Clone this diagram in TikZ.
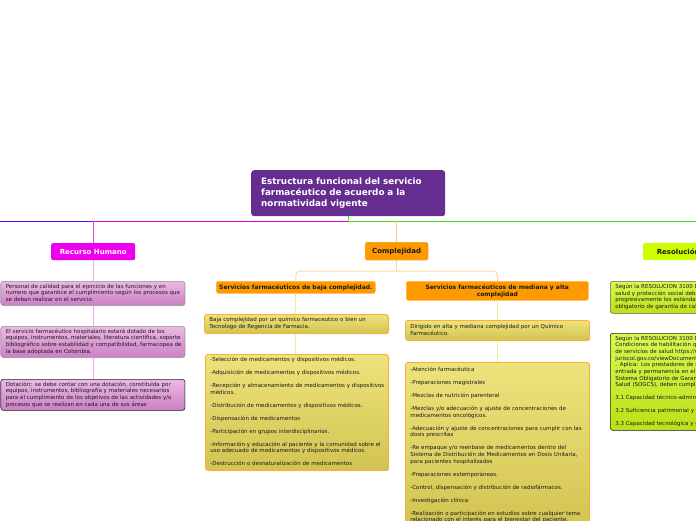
\documentclass[tikz,border=0pt]{standalone}
\usepackage{fontspec}
\setmainfont{DejaVu Sans}
\usetikzlibrary{shadows,backgrounds}
\definecolor{titlepurple}{HTML}{662D91}
\definecolor{magentac}{HTML}{EE00EE}
\definecolor{magline}{HTML}{DD00DD}
\definecolor{pinkline}{HTML}{F4A8F0}
\definecolor{blueline}{HTML}{5A10F0}
\definecolor{greenline}{HTML}{44DD11}
\definecolor{orangec}{HTML}{FF9900}
\definecolor{orline}{HTML}{FFD8A0}
\definecolor{yline}{HTML}{EEEE99}
\definecolor{limec}{HTML}{CCFF00}
\definecolor{pinktop}{HTML}{EBB8E4}
\definecolor{pinkbot}{HTML}{CC80C4}
\definecolor{yeltop}{HTML}{EEE27C}
\definecolor{yelbot}{HTML}{D2C452}
\definecolor{limetop}{HTML}{D8F850}
\definecolor{limebot}{HTML}{BCE018}
\definecolor{txt}{HTML}{1A1A1A}
\newcommand\mylines[1]{\begin{tabular}{@{}l@{}}#1\end{tabular}}
\tikzset{
  box/.style={anchor=north west, align=left, inner xsep=5pt, inner ysep=2pt,
    font=\fontsize{5.5}{6.6}\selectfont, text=txt, rounded corners=2.5pt,
    drop shadow={shadow xshift=0.8pt, shadow yshift=-0.8pt, opacity=0.3}},
  pinkbox/.style={box, draw=gray!85, line width=0.6pt, top color=pinktop, bottom color=pinkbot},
  yelbox/.style={box, draw=orangec!80, line width=0.8pt, top color=yeltop, bottom color=yelbot},
  limebox/.style={box, draw=gray!80!black, line width=0.6pt, top color=limetop, bottom color=limebot},
  label/.style={anchor=north west, align=center, inner sep=1pt, rounded corners=2pt,
    font=\bfseries\fontsize{7}{8}\selectfont},
  sublabel/.style={anchor=north west, align=center, inner sep=1pt, rounded corners=2pt,
    fill=orangec, draw=orangec!70, line width=0.6pt, text=txt,
    font=\bfseries\fontsize{6}{7}\selectfont},
  conn/.style={line width=1pt},
}
\begin{document}
\begin{tikzpicture}[x=1pt,y=-1pt]
\clip (0,0) rectangle (696,520);
% title
\node[anchor=north west, fill=titlepurple, rounded corners=3pt, text=white,
  font=\bfseries\fontsize{8.8}{11.2}\selectfont, align=left, inner xsep=10pt,
  text width=174pt, minimum height=46pt, minimum width=194pt] (title) at (251,170)
  {Estructura funcional del servicio\\farmacéutico de acuerdo a la\\normatividad vigente};
% top-level labels
\node[label, fill=magentac, text=white, minimum width=84pt, minimum height=17pt] (rh) at (51,243) {Recurso Humano};
\node[label, fill=orangec, draw=orangec!70, text=txt, minimum width=63pt, minimum height=18pt] (cx) at (365,242) {Complejidad};
\node[label, fill=limec, text=txt, minimum width=70pt, minimum height=17pt] (res) at (643,243) {Resolución};
% Recurso humano boxes
\node[pinkbox, text width=174pt, minimum height=24pt] (p1) at (0.5,281)
 {\mylines{Personal de calidad para el ejercicio de las funciones y en\\numero que garantice el cumplimiento según los procesos que\\se deban realizar en el servicio.}};
\node[pinkbox, text width=174pt, minimum height=31pt] (p2) at (0.5,326)
 {\mylines{El servicio farmacéutico hospitalario estará dotado de los\\equipos, instrumentos, materiales, literatura científica, soporte\\bibliográfico sobre estabilidad y compatibilidad, farmacopea de\\la base adoptada en Colombia.}};
\node[pinkbox, draw=black!85, text width=174pt, minimum height=31pt] (p3) at (0.5,379)
 {\mylines{Dotación: se debe contar con una dotación, constituida por\\equipos, instrumentos, bibliografía y materiales necesarios\\para el cumplimiento de los objetivos de las actividades y/o\\procesos que se realizan en cada una de sus áreas}};
% Complejidad
\node[sublabel, minimum width=159pt, minimum height=12pt] (baja) at (216,281) {Servicios farmacéuticos de baja complejidad.};
\node[sublabel, minimum width=182pt, minimum height=19pt] (med) at (406,281) {Servicios farmacéuticos de mediana y alta\\complejidad};
\node[yelbox, text width=174pt, minimum height=19pt] (b1) at (204,314)
 {\mylines{Baja complejidad por un químico farmaceutico o bien un\\Tecnologo de Regencia de Farmacia.}};
\node[yelbox, text width=173pt, minimum height=116pt] (b2) at (205,354)
 {\mylines{-Selección de medicamentos y dispositivos médicos.\\[6.4pt]
  -Adquisición de medicamentos y dispositivos médicos.\\[6.4pt]
  -Recepción y almacenamiento de medicamentos y dispositivos\\médicos.\\[6.4pt]
  -Distribución de medicamentos y dispositivos médicos.\\[6.4pt]
  -Dispensación de medicamentos\\[6.4pt]
  -Participación en grupos interdisciplinarios.\\[6.4pt]
  -Información y educación al paciente y la comunidad sobre el\\uso adecuado de medicamentos y dispositivos médicos.\\[6.4pt]
  -Destrucción o desnaturalización de medicamentos}};
\node[yelbox, text width=174pt, minimum height=20pt] (m1) at (405,320)
 {\mylines{Dirigido en alta y mediana complejidad por un Químico\\Farmacéutico.}};
\node[yelbox, text width=174pt, minimum height=166pt] (m2) at (405,362)
 {\mylines{-Atención farmacéutica\\[6.4pt]
  -Preparaciones magistrales\\[6.4pt]
  -Mezclas de nutrición parenteral\\[6.4pt]
  -Mezclas y/o adecuación y ajuste de concentraciones de\\medicamentos oncológicos.\\[6.4pt]
  -Adecuación y ajuste de concentraciones para cumplir con las\\dosis prescritas\\[6.4pt]
  -Re empaque y/o reenbase de medicamentos dentro del\\Sistema de Distribución de Medicamentos en Dosis Unitaria,\\para pacientes hospitalizados\\[6.4pt]
  -Preparaciones extemporáneas.\\[6.4pt]
  -Control, dispensación y distribución de radiofármacos.\\[6.4pt]
  -Investigación clínica\\[6.4pt]
  -Realización o participación en estudios sobre cualquier tema\\relacionado con el interés para el bienestar del paciente.}};
% Resolucion boxes
\node[limebox, text width=180pt, minimum height=32pt] (l1) at (610,281)
 {\mylines{Según la RESOLUCION 3100 DE 2019 el ministerio de\\salud y protección social deben cumplir\\progresivamente los estándares del sistema\\obligatorio de garantía de calidad}};
\node[limebox, draw=black!85, text width=180pt, minimum height=97pt] (l2) at (610,333)
 {\mylines{Según la RESOLUCION 3100 DE 2019 se definen las\\Condiciones de habilitación que deben cumplir los prestadores\\de servicios de salud https://www.suin-\\juriscol.gov.co/viewDocument.asp?id=30038501\\. Aplica: Los prestadores de servicios de salud, para su\\entrada y permanencia en el Sistema Único de Habilitación del\\Sistema Obligatorio de Garantía de Calidad en\\Salud (SOGCS), deben cumplir las siguientes condiciones:\\[6.4pt]
  3.1 Capacidad técnico-administrativa.\\[6.4pt]
  3.2 Suficiencia patrimonial y financiera.\\[6.4pt]
  3.3 Capacidad tecnológica y científica.}};
% connectors
\begin{scope}[on background layer]
\fill[white] (0,0) rectangle (696,520);
\coordinate (lend) at (0,221);
\coordinate (rend) at (696,221);
\coordinate (hub) at (title.south |- lend);
\coordinate (rhj) at (rh.north |- lend);
\coordinate (cxj) at (cx.north |- lend);
\draw[conn, blueline] (lend) -- (rhj);
\draw[conn, magline] (rhj) -- (hub);
\draw[conn, greenline] (title.south) -- (hub) -- (rend);
\draw[conn, magline!70] (rhj) -- (rh.north);
\draw[conn, pinkline] (rh.south) -- (rh.south |- p3.north);
\draw[conn, orline!80!orange] (cxj) -- (cx.north);
\draw[conn, orline] (cx.south) -- (cx.south |- 0,271) coordinate (cxb);
\draw[conn, orline, rounded corners=4pt] (cxb) -| (baja.north);
\draw[conn, orline, rounded corners=4pt] (cxb) -| (med.north);
\draw[conn, yline] (baja.south) -- (baja.south |- b2.north);
\draw[conn, yline] (med.south) -- (med.south |- m2.north);
\end{scope}
\end{tikzpicture}
\end{document}
